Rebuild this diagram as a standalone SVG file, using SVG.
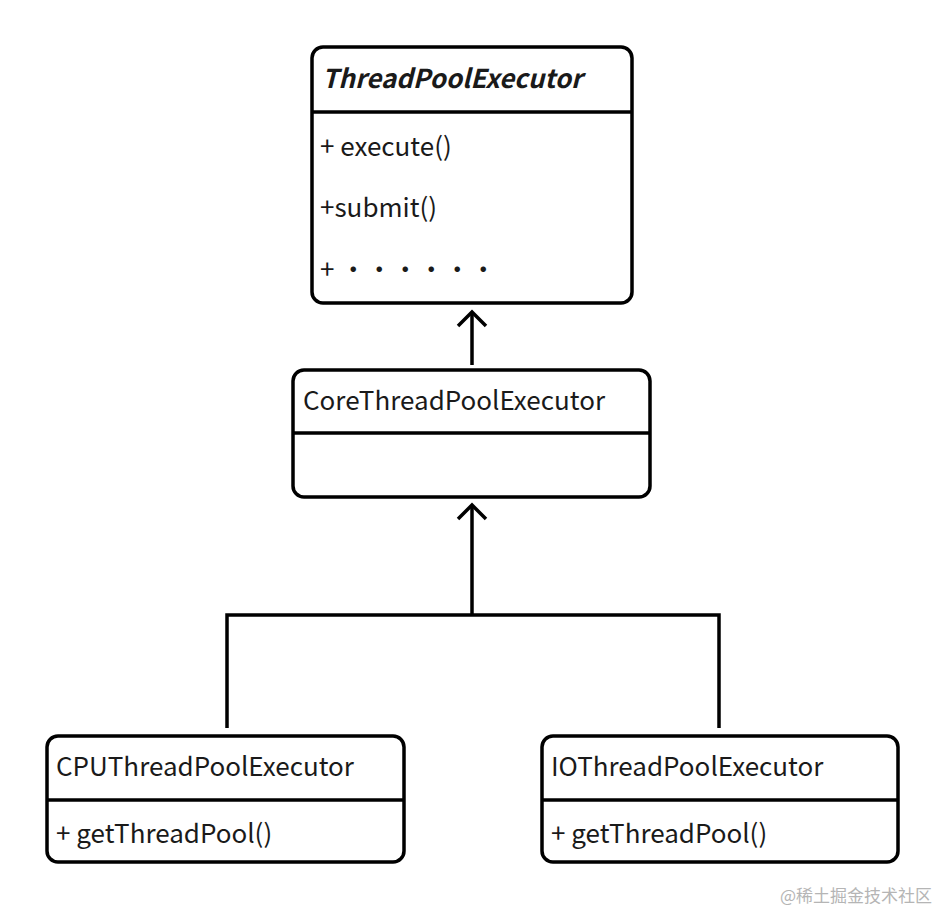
<svg xmlns="http://www.w3.org/2000/svg" width="946" height="912" viewBox="0 0 946 912">
<style>
.box{fill:#fff;stroke:#000;stroke-width:3.5}
.ln{stroke:#000;stroke-width:3.5;fill:none}
text{font-family:"Noto Sans CJK SC","Noto Sans",sans-serif;font-size:26px;fill:#1a1a1a}
</style>
<defs>
<marker id="arr" viewBox="0 0 20 20" refX="10" refY="3" markerWidth="20" markerHeight="20" markerUnits="userSpaceOnUse" orient="auto-start-reverse">
<path d="M0,0 L10,-10 L20,0" transform="translate(0,13)" fill="none" stroke="#000" stroke-width="3.5"/>
</marker>
</defs>
<rect width="946" height="912" fill="#fff"/>
<g id="connectors">
<line class="ln" x1="472" y1="365" x2="472" y2="312"/>
<path class="ln" d="M458,326 L472,312 L486,326"/>
<line class="ln" x1="472" y1="615" x2="472" y2="505"/>
<path class="ln" d="M458,519 L472,505 L486,519"/>
<path class="ln" d="M227,728 V615 H719 V728"/>
</g>
<g id="ThreadPoolExecutor">
<rect class="box" x="312" y="47" width="320" height="256" rx="11"/>
<line class="ln" x1="312" y1="112" x2="632" y2="112"/>
<text x="322" y="88" font-weight="bold" font-style="italic">ThreadPoolExecutor</text>
<text x="320" y="156">+ execute()</text>
<text x="320" y="217">+submit()</text>
<text x="320" y="279">+ ······</text>
</g>
<g id="CoreThreadPoolExecutor">
<rect class="box" x="293" y="370" width="357" height="127" rx="11"/>
<line class="ln" x1="293" y1="433" x2="650" y2="433"/>
<text x="303" y="410">CoreThreadPoolExecutor</text>
</g>
<g id="CPUThreadPoolExecutor">
<rect class="box" x="47" y="736" width="357" height="126" rx="11"/>
<line class="ln" x1="47" y1="800" x2="404" y2="800"/>
<text x="56" y="776">CPUThreadPoolExecutor</text>
<text x="56" y="843">+ getThreadPool()</text>
</g>
<g id="IOThreadPoolExecutor">
<rect class="box" x="542" y="736" width="356" height="126" rx="11"/>
<line class="ln" x1="542" y1="800" x2="898" y2="800"/>
<text x="551" y="776">IOThreadPoolExecutor</text>
<text x="551" y="843">+ getThreadPool()</text>
</g>
<text x="780" y="902" style="font-size:17px;fill:#b5b5b5">@稀土掘金技术社区</text>
</svg>
